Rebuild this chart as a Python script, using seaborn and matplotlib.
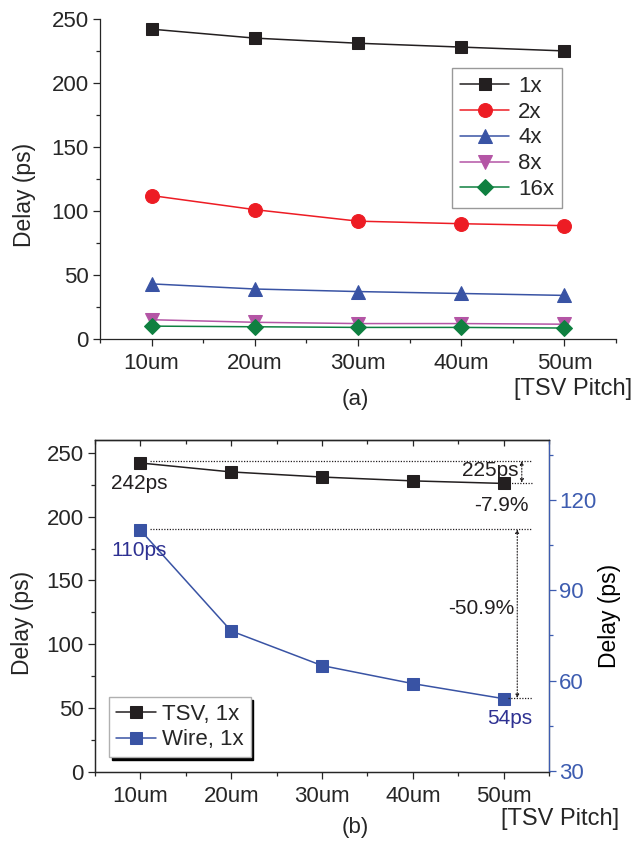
import matplotlib
matplotlib.use("Agg")
import matplotlib.pyplot as plt
import seaborn as sns
from matplotlib.ticker import MultipleLocator

# x categories (TSV pitch)
pitches = ["10um", "20um", "30um", "40um", "50um"]
pos = [1, 2, 3, 4, 5]

# (a) delay vs pitch for several driver sizes
delay_1x = [242, 235, 231, 228, 225]
delay_2x = [112, 101, 92, 90, 88.5]
delay_4x = [43, 39, 37, 35.5, 34]
delay_8x = [15, 13, 12, 12, 11.5]
delay_16x = [10, 9.5, 9, 9, 8.5]
series_names = ["1x", "2x", "4x", "8x", "16x"]

# (b) TSV (left axis) vs wire (right axis)
tsv_1x = [242, 235, 231, 228, 226]
wire_1x = [110, 76.5, 65, 59, 54]

sns.set_style("ticks")
FONT = ["Liberation Sans Narrow", "Liberation Sans", "DejaVu Sans"]
plt.rcParams["font.family"] = FONT
plt.rcParams["axes.linewidth"] = 0.9

BLACK = "#231f20"
RED = "#ed1c24"
BLUE = "#3953a4"
MAG = "#b455a5"
GREEN = "#0f8040"
NAVY = "#2e3192"
AXBLUE = "#3d5cb0"
TS = 16  # tick / label size

fig = plt.figure(figsize=(6.39, 8.41), dpi=100)

# ---------------- (a) ----------------
ax = fig.add_axes([0.1565, 0.597, 0.8075, 0.3805])
styles = [(delay_1x, BLACK, "s", 9), (delay_2x, RED, "o", 10),
          (delay_4x, BLUE, "^", 10), (delay_8x, MAG, "v", 10),
          (delay_16x, GREEN, "D", 8)]
for (vals, col, mk, ms), name in zip(styles, series_names):
    sns.lineplot(x=pos, y=vals, ax=ax, color=col, marker=mk, markersize=ms,
                 markeredgecolor=col, lw=1.1, label=name)

ax.set_xlim(0.5, 5.5)
ax.set_ylim(0, 250)
ax.set_xticks(pos)
ax.set_xticklabels(pitches)
ax.xaxis.set_minor_locator(MultipleLocator(0.5))
ax.yaxis.set_major_locator(MultipleLocator(50))
ax.yaxis.set_minor_locator(MultipleLocator(25))
ax.tick_params(which="major", length=5, width=0.9, labelsize=TS, pad=3)
ax.tick_params(axis="x", which="major", pad=5)
ax.tick_params(which="minor", length=3, width=0.9)
sns.despine(ax=ax)
ax.set_ylabel("Delay (ps)", fontsize=TS + 0.5)
ax.yaxis.set_label_coords(-0.124, 0.45)
ax.set_xlabel("")
ax.legend(loc="upper right", bbox_to_anchor=(0.895, 0.847), borderaxespad=0,
          frameon=True, fancybox=False, edgecolor="#808080", fontsize=TS,
          handlelength=2.2, handletextpad=0.4, labelspacing=0.22,
          borderpad=0.35).get_frame().set_linewidth(1.0)

fig.text(632 / 639, 1 - 389 / 841, "[TSV Pitch]", ha="right", va="center", fontsize=17)
fig.text(355 / 639, 1 - 399 / 841, "(a)", ha="center", va="center", fontsize=TS)

# ---------------- (b) ----------------
axb = fig.add_axes([0.1487, 0.082, 0.7105, 0.3948])
ax2 = axb.twinx()
sns.lineplot(x=pos, y=tsv_1x, ax=axb, color=BLACK, marker="s", markersize=9,
             markeredgecolor=BLACK, lw=1.1, label="TSV, 1x", legend=False)
sns.lineplot(x=pos, y=wire_1x, ax=ax2, color=BLUE, marker="s", markersize=9,
             markeredgecolor=BLUE, lw=1.1, label="Wire, 1x", legend=False)

axb.set_xlim(0.5, 5.5)
axb.set_ylim(0, 260)
ax2.set_ylim(29.6, 140)
axb.set_xticks(pos)
axb.set_xticklabels(pitches)
axb.xaxis.set_minor_locator(MultipleLocator(0.5))
axb.yaxis.set_major_locator(MultipleLocator(50))
axb.yaxis.set_minor_locator(MultipleLocator(25))
ax2.yaxis.set_major_locator(MultipleLocator(30))
ax2.yaxis.set_minor_locator(MultipleLocator(15))
axb.tick_params(which="major", length=5, width=0.9, labelsize=TS, pad=3)
axb.tick_params(axis="x", which="major", pad=5)
axb.tick_params(which="minor", length=3, width=0.9)
ax2.tick_params(which="major", length=5, width=0.9, labelsize=TS, pad=2,
                colors=AXBLUE)
ax2.tick_params(which="minor", length=3, width=0.9, colors=AXBLUE)
ax2.spines["right"].set_color(AXBLUE)
axb.set_xlabel("")
axb.set_ylabel("Delay (ps)", fontsize=TS + 0.5)
axb.yaxis.set_label_coords(-0.134, 0.45)
ax2.set_ylabel("Delay (ps)", fontsize=TS + 0.5, color="black")
ax2.yaxis.set_label_coords(1.108, 0.47)

# inward ticks along the top edge
top = axb.secondary_xaxis("top")
top.set_xticks(pos)
top.xaxis.set_minor_locator(MultipleLocator(0.5))
top.tick_params(which="both", direction="in", labeltop=False, length=4, width=0.9)
top.tick_params(which="minor", length=3)

# dotted guides and arrows
dot = dict(color=BLACK, ls=(0, (1, 1.2)), lw=0.9)
axb.hlines(243.5, 1.1, 5.31, **dot)
axb.hlines(226.5, 5.03, 5.31, **dot)
axb.annotate("", xy=(5.2, 226.5), xytext=(5.2, 243.5),
             arrowprops=dict(arrowstyle="<|-|>", ls=":", lw=0.8, color=BLACK,
                             mutation_scale=5, shrinkA=0, shrinkB=0))
ax2.hlines(110.3, 1.1, 5.31, **dot)
ax2.hlines(54.2, 5.05, 5.31, **dot)
ax2.annotate("", xy=(5.15, 54.2), xytext=(5.15, 110.3),
             arrowprops=dict(arrowstyle="<|-|>", ls=":", lw=0.8, color=BLACK,
                             mutation_scale=5, shrinkA=0, shrinkB=0))

AS = 15
axb.text(0.985, 226, "242ps", ha="center", va="center", fontsize=AS, color=BLACK)
axb.text(4.85, 236, "225ps", ha="center", va="center", fontsize=AS, color=BLACK)
axb.text(4.98, 209, "-7.9%", ha="center", va="center", fontsize=AS, color=BLACK)
ax2.text(0.985, 103.3, "110ps", ha="center", va="center", fontsize=AS, color=NAVY)
ax2.text(4.75, 83.9, "-50.9%", ha="center", va="center", fontsize=AS, color=BLACK)
ax2.text(5.07, 47.3, "54ps", ha="center", va="center", fontsize=AS, color=NAVY)

h1, l1 = axb.get_legend_handles_labels()
h2, l2 = ax2.get_legend_handles_labels()
leg = ax2.legend(h1 + h2, l1 + l2, loc="lower left", bbox_to_anchor=(0.031, 0.045),
                 borderaxespad=0, frameon=True, fancybox=False, edgecolor="#b0b0b0",
                 framealpha=1, fontsize=TS, handlelength=1.8, handletextpad=0.3,
                 labelspacing=0.2, borderpad=0.3,
                 shadow={"color": "black", "alpha": 1})
leg.get_frame().set_linewidth(1.0)

fig.text(619 / 639, 1 - 819 / 841, "[TSV Pitch]", ha="right", va="center", fontsize=17)
fig.text(355 / 639, 1 - 828 / 841, "(b)", ha="center", va="center", fontsize=TS)

fig.savefig("out.png", dpi=100)
